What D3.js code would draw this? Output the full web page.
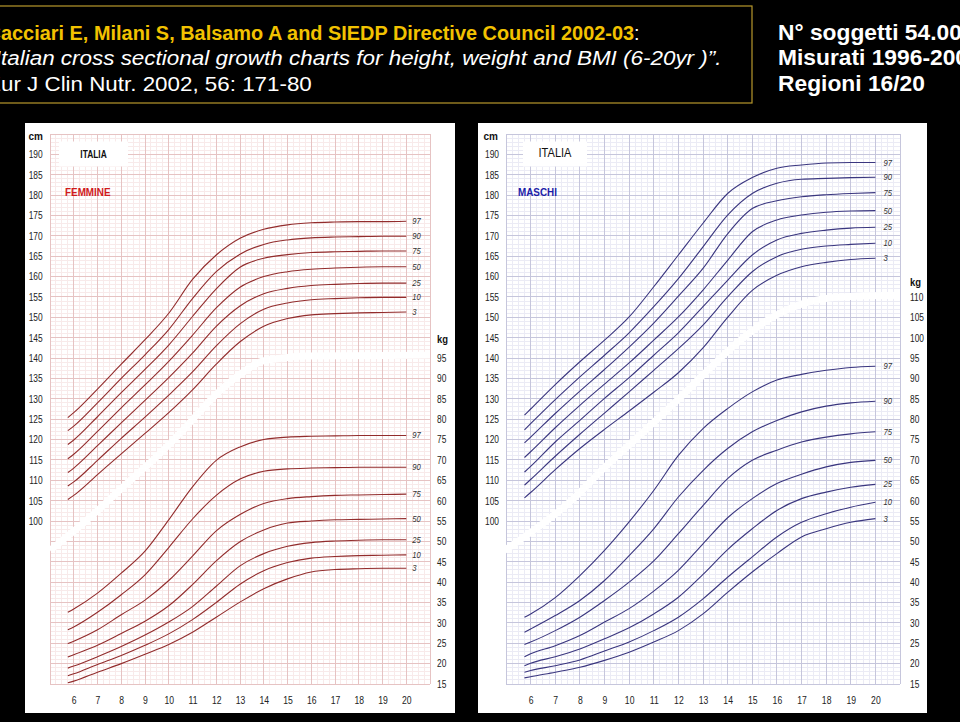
<!DOCTYPE html>
<html><head><meta charset="utf-8">
<script src="https://cdn.jsdelivr.net/npm/d3@7"></script>
<style>html,body{margin:0;padding:0;background:#000;}svg{display:block;}</style>
</head><body>
<svg id="chart" width="960" height="722"></svg>
<script>
// ---------------- DATA ----------------
const ages = [5.75, 6, 7, 8, 9, 10, 11, 12, 13, 14, 15, 16, 17, 18, 19, 20];
const percentiles = [97, 90, 75, 50, 25, 10, 3];
const ageTicks = [6, 7, 8, 9, 10, 11, 12, 13, 14, 15, 16, 17, 18, 19, 20];
const cmTicks = [100, 105, 110, 115, 120, 125, 130, 135, 140, 145, 150, 155, 160, 165, 170, 175, 180, 185, 190];
const kgTicksF = [15, 20, 25, 30, 35, 40, 45, 50, 55, 60, 65, 70, 75, 80, 85, 90, 95];
const kgTicksM = [15, 20, 25, 30, 35, 40, 45, 50, 55, 60, 65, 70, 75, 80, 85, 90, 95, 100, 105, 110];

// Femmine - statura (cm)
const fH97 = [125.4,126.6,132.4,138.5,144.5,151.0,159.3,165.3,169.4,171.6,172.7,173.2,173.4,173.5,173.5,173.6];
const fH90 = [122.2,123.3,129.0,135.0,140.8,147.0,154.6,161.2,165.5,167.9,169.0,169.5,169.7,169.8,169.9,169.9];
const fH75 = [118.8,119.9,125.6,131.5,137.2,143.2,150.2,157.0,162.3,164.5,165.4,165.9,166.1,166.2,166.3,166.3];
const fH50 = [115.3,116.4,122.0,127.8,133.4,139.2,145.6,152.3,157.4,160.0,161.2,161.8,162.1,162.3,162.4,162.4];
const fH25 = [111.9,113.0,118.5,124.1,129.6,135.2,141.2,147.8,152.8,155.8,157.1,157.8,158.1,158.3,158.4,158.4];
const fH10 = [108.6,109.6,114.9,120.3,125.5,130.9,136.6,143.0,148.4,152.0,153.5,154.3,154.6,154.8,154.9,154.9];
const fH3  = [105.3,106.3,111.4,116.5,121.5,126.6,132.2,138.5,144.0,147.8,149.7,150.6,150.9,151.1,151.2,151.3];
// Femmine - peso (kg)
const fW97 = [32.6,33.4,37.3,42.2,47.6,55.3,63.4,69.9,73.2,75.0,75.6,75.8,75.9,76.0,76.0,76.0];
const fW90 = [28.3,29.0,32.6,36.9,41.8,48.5,55.5,61.3,65.3,67.2,67.8,68.0,68.1,68.2,68.2,68.2];
const fW75 = [24.9,25.5,28.3,32.0,35.6,40.4,46.4,52.6,56.6,59.3,60.5,61.0,61.3,61.4,61.5,61.6];
const fW50 = [21.6,22.2,24.5,27.4,30.4,34.2,39.4,45.2,49.9,52.8,54.5,55.0,55.3,55.4,55.5,55.6];
const fW25 = [18.9,19.4,21.7,24.2,27.0,30.2,34.0,39.0,44.0,47.0,48.8,49.7,50.1,50.3,50.4,50.4];
const fW10 = [17.0,17.5,19.8,22.0,24.5,27.3,30.8,35.0,39.5,42.8,44.8,45.9,46.3,46.5,46.6,46.7];
const fW3  = [15.3,15.7,17.9,20.0,22.3,24.7,27.7,31.4,35.1,38.4,40.8,42.5,43.1,43.3,43.4,43.4];
// Maschi - statura (cm)
const mH97 = [126.0,127.5,133.5,139.1,144.4,150.1,157.5,165.3,173.1,180.4,184.3,186.6,187.4,187.9,188.0,188.0];
const mH90 = [122.4,123.9,129.8,135.4,140.7,146.2,152.6,159.5,167.3,175.1,180.4,182.9,183.9,184.1,184.3,184.4];
const mH75 = [119.2,120.6,126.4,131.9,137.2,142.7,148.6,155.2,162.0,170.5,176.7,178.6,179.6,180.1,180.4,180.6];
const mH50 = [115.6,117.0,122.9,128.4,133.6,138.8,144.4,150.1,156.7,164.0,171.0,173.9,175.1,175.8,176.1,176.2];
const mH25 = [112.0,113.4,119.4,124.7,130.1,135.2,140.7,146.2,152.6,159.1,165.3,169.0,170.6,171.4,171.9,172.1];
const mH10 = [108.8,110.2,115.9,121.3,126.5,131.7,137.0,142.3,148.1,155.0,161.2,164.9,166.7,167.5,167.9,168.2];
const mH3  = [105.7,107.0,112.6,117.8,122.5,127.0,131.6,136.4,142.5,150.0,156.6,160.3,162.4,163.5,164.2,164.5];
// Maschi - peso (kg)
const mW97 = [31.4,32.2,36.2,41.6,47.8,54.8,62.5,71.1,77.7,82.6,86.7,89.6,91.0,92.0,92.7,93.0];
const mW90 = [27.7,28.5,31.8,35.5,40.4,46.5,53.1,60.9,67.4,72.8,76.9,79.7,81.8,83.2,84.0,84.4];
const mW75 = [24.7,25.3,28.1,31.4,35.5,40.0,45.2,51.9,58.8,65.4,69.9,72.4,74.4,75.6,76.4,76.9];
const mW50 = [21.7,22.4,24.4,26.9,30.2,33.5,37.8,42.9,49.4,55.8,60.5,64.2,66.5,68.3,69.4,69.9];
const mW25 = [19.5,20.1,21.7,23.6,26.1,28.8,32.2,36.3,41.9,48.0,53.1,57.6,60.5,62.1,63.3,64.0];
const mW10 = [17.9,18.3,19.5,20.9,23.1,25.3,28.1,31.4,35.9,41.2,46.2,51.1,54.7,56.8,58.4,59.6];
const mW3  = [16.5,16.8,17.9,19.1,20.8,22.8,25.3,28.1,32.2,37.5,42.5,47.0,51.1,53.1,54.7,55.6];

// white separator band (age, cm-scale value)
const bandF = [[5,92.8],[6.55,100.2],[8.23,109.2],[9.63,116.6],[10.6,122.3],[11.74,129.6],[12.86,135.4],[13.97,139.3],[14.81,140.0],[15.65,140.5],[21,140.7]];
const bandM = [[4.94,92.8],[6.28,98.4],[7.67,105.1],[9.01,113.2],[10.35,120.6],[11.74,128.4],[13.08,136.3],[14.42,143.9],[15.81,150.0],[16.87,153.0],[17.84,154.5],[19.19,155.2],[21,155.4]];

const titleLines = ["Cacciari E, Milani S, Balsamo A and SIEDP Directive Council 2002-03", "\u201CItalian cross sectional growth charts for height, weight and BMI (6-20yr )\u201D.", "Eur J Clin Nutr. 2002, 56: 171-80"];
const infoLines = ["N\u00B0 soggetti 54.000", "Misurati 1996-2000", "Regioni 16/20"];

// ---------------- DRAW ----------------
const FONT = "'Liberation Sans', Arial, Helvetica, sans-serif";
const svg = d3.select('#chart').attr('font-family', FONT);
svg.append('rect').attr('width', 960).attr('height', 722).attr('fill', '#000');

// ---- title block ----
const T = svg.append('g');
T.append('rect').attr('x', -5).attr('y', 6).attr('width', 757).attr('height', 97)
  .attr('fill', 'none').attr('stroke', '#b8982c').attr('stroke-width', 1.2);

function measure(str, attrs) {
  const t = T.append('text').text(str);
  Object.entries(attrs).forEach(([k, v]) => t.attr(k, v));
  const w = t.node().getComputedTextLength();
  t.remove();
  return w;
}
function fitLine(textSel, prefix, prefAttrs, x0, x1, base) {
  const L = textSel.node().getComputedTextLength();
  const Lp = prefix ? measure(prefix, prefAttrs) : 0;
  const s = (x1 - x0) / (L - Lp);
  textSel.attr('transform', `translate(${x0 - Lp * s},${base}) scale(${s},1)`);
}
const FS = 21;
const t1 = T.append('text').attr('font-size', FS);
t1.append('tspan').attr('font-weight', 'bold').attr('fill', '#f2c200').text(titleLines[0]);
t1.append('tspan').attr('fill', '#fff').text(':');
fitLine(t1, 'C', {'font-size': FS, 'font-weight': 'bold'}, 1, 640, 40);

const t2 = T.append('text').attr('font-size', FS).attr('font-style', 'italic').attr('fill', '#fff').text(titleLines[1]);
fitLine(t2, '\u201CI', {'font-size': FS, 'font-style': 'italic'}, 1, 722, 65);

const t3 = T.append('text').attr('font-size', FS).attr('fill', '#fff').text(titleLines[2]);
fitLine(t3, 'E', {'font-size': FS}, 1, 312, 91);

const infoBase = [40, 65, 91];
const regW = measure(infoLines[2], {'font-size': 22, 'font-weight': 'bold'});
const sInfo = (925 - 778) / regW;
infoLines.forEach((s, i) => {
  T.append('text').attr('font-size', 22).attr('font-weight', 'bold').attr('fill', '#fff')
    .attr('transform', `translate(778,${infoBase[i]}) scale(${sInfo},1)`).text(s);
});

// ---- panels ----
const panels = [
  { name: 'F', bg: [25, 123, 430, 590], xr: [50, 430], H: [fH97,fH90,fH75,fH50,fH25,fH10,fH3], W: [fW97,fW90,fW75,fW50,fW25,fW10,fW3],
    band: bandF, kgTicks: kgTicksF, line: '#922c2c', gMinor: '#f8eaea', gMajor: '#e6c3c3',
    sexLabel: 'FEMMINE', sexColor: '#d01a1a', sexX: 65, italia: {x: 59, w: 69, bold: true, fs: 10, sc: 0.84, base: 157.5},
    cmPad: 7.3, kgPad: 7, cmLabX: 43, kgLabX: 437, kgLabY: 343, labDx: 6 },
  { name: 'M', bg: [478, 123, 449, 590], xr: [506, 900], H: [mH97,mH90,mH75,mH50,mH25,mH10,mH3], W: [mW97,mW90,mW75,mW50,mW25,mW10,mW3],
    band: bandM, kgTicks: kgTicksM, line: '#3a367f', gMinor: '#ebebf5', gMajor: '#c6c6dc',
    sexLabel: 'MASCHI', sexColor: '#1c1ca8', sexX: 518, italia: {x: 523, w: 64, bold: false, fs: 12, sc: 0.92, base: 157},
    cmPad: 7, kgPad: 10, cmLabX: 498, kgLabX: 910, kgLabY: 286, labDx: 8 }
];

const Y0 = 134, Y1 = 684;
panels.forEach(p => {
  const g = svg.append('g');
  g.append('rect').attr('x', p.bg[0]).attr('y', p.bg[1]).attr('width', p.bg[2]).attr('height', p.bg[3]).attr('fill', '#fff');

  const x = d3.scaleLinear().domain([5, 21]).range(p.xr);
  const y = d3.scaleLinear().domain([60, 195]).range([Y1, Y0]);   // cm
  const yk = d3.scaleLinear().domain([15, 150]).range([Y1, Y0]);  // kg

  const clipId = 'clip' + p.name;
  g.append('clipPath').attr('id', clipId).append('rect')
    .attr('x', p.xr[0]).attr('y', Y0).attr('width', p.xr[1] - p.xr[0]).attr('height', Y1 - Y0);

  // grid
  const grid = g.append('g').attr('shape-rendering', 'crispEdges');
  const minorX = d3.range(5, 21.0001, 0.25).filter(v => Math.abs(v - Math.round(v)) > 1e-6);
  const minorY = d3.range(60, 195.0001, 1).filter(v => v % 5 !== 0);
  grid.selectAll('.mx').data(minorX).join('line').attr('x1', d => x(d)).attr('x2', d => x(d)).attr('y1', Y0).attr('y2', Y1)
    .attr('stroke', p.gMinor).attr('stroke-width', 1);
  grid.selectAll('.my').data(minorY).join('line').attr('y1', d => y(d)).attr('y2', d => y(d)).attr('x1', p.xr[0]).attr('x2', p.xr[1])
    .attr('stroke', p.gMinor).attr('stroke-width', 1);
  const majorX = d3.range(5, 21.0001, 1);
  const majorY = d3.range(60, 195.0001, 5);
  grid.selectAll('.Mx').data(majorX).join('line').attr('x1', d => x(d)).attr('x2', d => x(d)).attr('y1', Y0).attr('y2', Y1)
    .attr('stroke', p.gMajor).attr('stroke-width', 1);
  grid.selectAll('.My').data(majorY).join('line').attr('y1', d => y(d)).attr('y2', d => y(d)).attr('x1', p.xr[0]).attr('x2', p.xr[1])
    .attr('stroke', p.gMajor).attr('stroke-width', 1);

  // band
  g.append('path').datum(p.band).attr('clip-path', `url(#${clipId})`)
    .attr('d', d3.line().x(d => x(d[0])).y(d => y(d[1])).curve(d3.curveMonotoneX))
    .attr('fill', 'none').attr('stroke', '#fff').attr('stroke-width', 7);

  // curves
  const lineH = d3.line().x((d, i) => x(ages[i])).y(d => y(d)).curve(d3.curveMonotoneX);
  const lineW = d3.line().x((d, i) => x(ages[i])).y(d => yk(d)).curve(d3.curveMonotoneX);
  g.append('g').selectAll('path').data(p.H).join('path').attr('d', lineH)
    .attr('fill', 'none').attr('stroke', p.line).attr('stroke-width', 1.1);
  g.append('g').selectAll('path').data(p.W).join('path').attr('d', lineW)
    .attr('fill', 'none').attr('stroke', p.line).attr('stroke-width', 1.1);

  // curve labels
  const lab = g.append('g').attr('font-size', 9).attr('font-style', 'italic').attr('fill', '#333');
  percentiles.forEach((pc, i) => {
    const hv = p.H[i][p.H[i].length - 1], wv = p.W[i][p.W[i].length - 1];
    lab.append('text').attr('transform', `translate(${x(20) + p.labDx},${y(hv) + 3}) scale(0.85,1)`).text(pc);
    lab.append('text').attr('transform', `translate(${x(20) + p.labDx},${yk(wv) + 3}) scale(0.85,1)`).text(pc);
  });

  // axes
  function condense(sel, s) {
    sel.selectAll('text').each(function () {
      const t = d3.select(this);
      const xa = +t.attr('x') || 0;
      t.attr('x', xa / s).attr('transform', `scale(${s},1)`);
    });
  }
  const axL = g.append('g').attr('transform', `translate(${p.xr[0]},0)`)
    .call(d3.axisLeft(y).tickValues(cmTicks).tickSize(0).tickPadding(p.cmPad));
  const axR = g.append('g').attr('transform', `translate(${p.xr[1]},0)`)
    .call(d3.axisRight(yk).tickValues(p.kgTicks).tickSize(0).tickPadding(p.kgPad));
  const axB = g.append('g').attr('transform', `translate(0,${Y1})`)
    .call(d3.axisBottom(x).tickValues(ageTicks).tickSize(0).tickPadding(12));
  [axL, axR, axB].forEach(a => {
    a.select('.domain').remove();
    a.attr('font-family', FONT).attr('font-size', 10.5);
    a.selectAll('text').attr('fill', '#222');
  });
  axB.attr('font-size', 11.5);
  condense(axL, 0.8); condense(axR, 0.8); condense(axB, 0.75);

  // unit labels
  g.append('text').attr('x', p.cmLabX).attr('y', 139.5).attr('text-anchor', 'end').attr('font-size', 10)
    .attr('font-weight', 'bold').attr('fill', '#111').text('cm');
  g.append('text').attr('transform', `translate(${p.kgLabX},${p.kgLabY}) scale(0.9,1)`).attr('font-size', 10.5)
    .attr('font-weight', 'bold').attr('fill', '#111').text('kg');

  // ITALIA box
  g.append('rect').attr('x', p.italia.x).attr('y', 141.5).attr('width', p.italia.w).attr('height', 25).attr('fill', '#fff');
  g.append('text').attr('text-anchor', 'middle')
    .attr('transform', `translate(${p.italia.x + p.italia.w / 2},${p.italia.base}) scale(${p.italia.sc},1)`)
    .attr('font-size', p.italia.fs).attr('font-weight', p.italia.bold ? 'bold' : 'normal').attr('fill', '#111').text('ITALIA');

  // sex label
  g.append('text').attr('transform', `translate(${p.sexX},196) scale(0.86,1)`).attr('font-size', 11.5)
    .attr('font-weight', 'bold').attr('fill', p.sexColor).text(p.sexLabel);
});
</script>
</body></html>
